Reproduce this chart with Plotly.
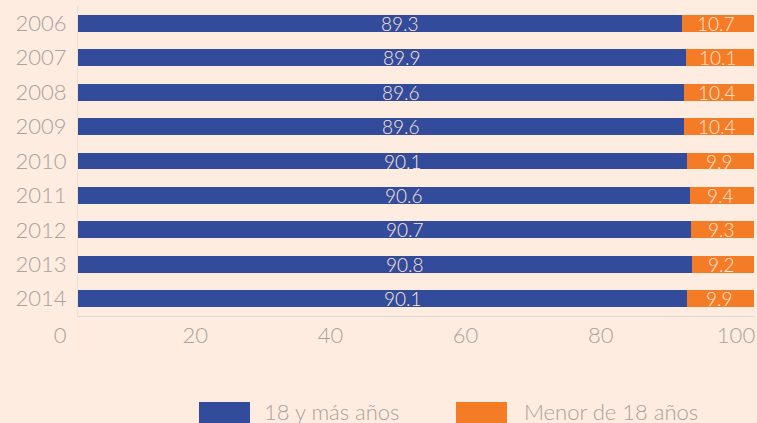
import plotly.graph_objects as go

years = ["2006", "2007", "2008", "2009", "2010", "2011", "2012", "2013", "2014"]
adultos = [89.3, 89.9, 89.6, 89.6, 90.1, 90.6, 90.7, 90.8, 90.1]
menores = [10.7, 10.1, 10.4, 10.4, 9.9, 9.4, 9.3, 9.2, 9.9]
series_names = ["18 y más años", "Menor de 18 años"]
x_ticks = [0, 20, 40, 60, 80, 100]

BLUE = "#334b9b"
ORANGE = "#f47c26"
BG = "#fdecdf"
GRAY = "#a9a2a0"
LABEL = "#fde6d6"
FONT = "Lato"

fig = go.Figure()
fig.add_trace(go.Bar(
    y=years, x=adultos, orientation="h", name=series_names[0],
    marker=dict(color=BLUE, line=dict(width=0)),
    showlegend=False, hoverinfo="x+y",
))
fig.add_trace(go.Bar(
    y=years, x=menores, orientation="h", name=series_names[1],
    marker=dict(color=ORANGE, line=dict(width=0)),
    showlegend=False, hoverinfo="x+y",
))

label_font = dict(family=FONT, size=19, color=LABEL, weight=300)
annotations = []
for i, (a, m) in enumerate(zip(adultos, menores)):
    annotations.append(dict(x=a / 2, y=i, xref="x", yref="y", text=f"{a:.1f}",
                            showarrow=False, xshift=20, font=label_font))
    annotations.append(dict(x=a + m / 2, y=i, xref="x", yref="y", text=f"{m:.1f}",
                            showarrow=False, xshift=-2, font=label_font))

# custom legend (large swatches)
shapes = []
legend_items = [(series_names[0], BLUE, 199, 262), (series_names[1], ORANGE, 456, 522)]
for name, col, sx, tx in legend_items:
    shapes.append(dict(type="rect", xref="paper", yref="paper",
                       x0=(sx - 78) / 676, x1=(sx + 51 - 78) / 676,
                       y0=-(430 - 316) / 310, y1=-(402 - 316) / 310,
                       fillcolor=col, line=dict(width=0), layer="above"))
    annotations.append(dict(x=(tx - 78) / 676, y=-(412 - 316) / 310, xref="paper", yref="paper",
                            text=name, showarrow=False, xanchor="left", yanchor="middle",
                            font=dict(family=FONT, size=22, color=GRAY, weight=300)))

fig.update_layout(
    width=757, height=423,
    margin=dict(l=78, r=3, t=6, b=107, autoexpand=False),
    paper_bgcolor=BG, plot_bgcolor=BG,
    barmode="stack", bargap=0.51,
    annotations=annotations, shapes=shapes,
    font=dict(family=FONT, color=GRAY, weight=300),
    xaxis=dict(range=[0, 100], tickvals=x_ticks, showgrid=False, zeroline=False,
               showline=True, linecolor="#dcd8d6", linewidth=1, automargin=False,
               tickfont=dict(family=FONT, size=22, color=GRAY, weight=300),
               ticklabelshift=-18, ticklabelstandoff=0, ticklabeloverflow="allow",
               fixedrange=True),
    yaxis=dict(type="category", autorange="reversed", showgrid=False, zeroline=False,
               showline=True, linecolor="#ebe0d8", linewidth=1, automargin=False,
               tickfont=dict(family=FONT, size=22, color=GRAY, weight=300),
               ticklabelstandoff=6, fixedrange=True),
)

fig.write_html("out.html", config={"displayModeBar": False},
               post_script="document.body.style.margin='0';document.body.style.overflow='hidden';")
